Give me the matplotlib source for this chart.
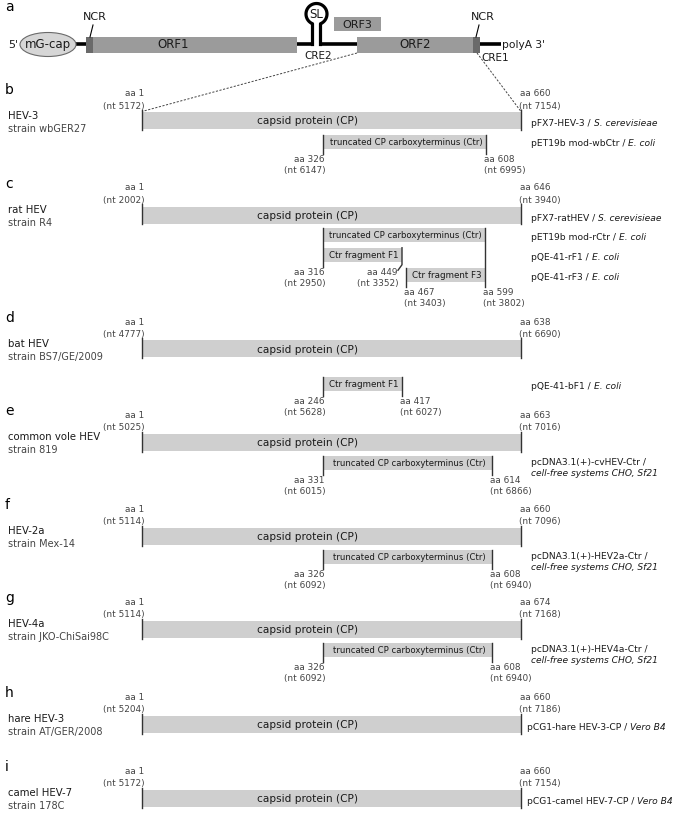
"""HEV capsid protein constructs: genome overview (a) and expression constructs (b-i)."""

import matplotlib

matplotlib.use("Agg")
import matplotlib.pyplot as plt
import numpy as np
from matplotlib.patches import Ellipse, Rectangle

# --- data -------------------------------------------------------------------
CTR = "truncated CP carboxyterminus (Ctr)"

panel_letters = ["b", "c", "d", "e", "f", "g", "h", "i"]
species = ["HEV-3", "rat HEV", "bat HEV", "common vole HEV", "HEV-2a", "HEV-4a",
           "hare HEV-3", "camel HEV-7"]
strains = ["strain wbGER27", "strain R4", "strain BS7/GE/2009", "strain 819",
           "strain Mex-14", "strain JKO-ChiSai98C", "strain AT/GER/2008", "strain 178C"]
cp_aa_end = [660, 646, 638, 663, 660, 674, 660, 660]
cp_nt_start = [5172, 2002, 4777, 5025, 5114, 5114, 5204, 5172]
cp_nt_end = [7154, 3940, 6690, 7016, 7096, 7168, 7186, 7154]
cp_plasmid = ["pFX7-HEV-3 /", "pFX7-ratHEV /", "", "", "", "",
              "pCG1-hare HEV-3-CP /", "pCG1-camel HEV-7-CP /"]
cp_host = ["S. cerevisieae", "S. cerevisieae", "", "", "", "", "Vero B4", "Vero B4"]

frag_panel = [0, 1, 1, 1, 2, 3, 4, 5]
frag_name = [CTR, CTR, "Ctr fragment F1", "Ctr fragment F3", "Ctr fragment F1", CTR, CTR, CTR]
frag_aa_start = [326, 316, 316, 467, 246, 331, 326, 326]
frag_nt_start = [6147, 2950, 2950, 3403, 5628, 6015, 6092, 6092]
frag_aa_end = [608, 599, 449, 599, 417, 614, 608, 608]
frag_nt_end = [6995, 3802, 3352, 3802, 6027, 6866, 6940, 6940]
frag_plasmid = ["pET19b mod-wbCtr /", "pET19b mod-rCtr /", "pQE-41-rF1 /", "pQE-41-rF3 /",
                "pQE-41-bF1 /", "pcDNA3.1(+)-cvHEV-Ctr /", "pcDNA3.1(+)-HEV2a-Ctr /",
                "pcDNA3.1(+)-HEV4a-Ctr /"]
frag_host = ["E. coli", "E. coli", "E. coli", "E. coli", "E. coli",
             "cell-free systems CHO, Sf21", "cell-free systems CHO, Sf21",
             "cell-free systems CHO, Sf21"]

# --- layout (schematic, pixel units) ----------------------------------------
W, H = 685, 813
panel_y = [121, 215, 349, 442, 536, 629, 724, 798]
CP_X0, CP_X1, CP_H = 142, 521, 17
CP_TEXT_X = 308
frag_x0 = [323, 323, 323, 406, 323, 323, 323, 323]
frag_x1 = [486, 485, 402, 485, 402, 492, 492, 492]
frag_dy = [21, 20, 40, 60, 35, 21, 21, 21]
frag_start_side = ["left", "left", "left", "right", "left", "left", "left", "left"]
frag_end_side = ["right", "right", "kink", "right", "right", "right", "right", "right"]
frag_two_lines = [False, False, False, False, False, True, True, True]
FRAG_H = 14.5
PLASMID_X = 531

BAR_GREY = "#cfcfcf"
ORF_GREY = "#9b9b9b"
NCR_GREY = "#6a6a6a"
TICK = "#333333"
LABEL = "#444444"
DARK = "#1a1a1a"
SMALL = 6.4

fig = plt.figure(figsize=(W / 100, H / 100), dpi=100)
ax = fig.add_axes([0, 0, 1, 1])
ax.set_xlim(0, W)
ax.set_ylim(H, 0)
ax.axis("off")
renderer = fig.canvas.get_renderer()
inv = ax.transData.inverted()


def plasmid_label(x, y, regular, italic, size=6.6):
    t = ax.text(x, y, regular, ha="left", va="center_baseline", fontsize=size, color=DARK)
    bb = t.get_window_extent(renderer)
    x_end = inv.transform((bb.x1, bb.y0))[0]
    ax.text(x_end + 3, y, italic, ha="left", va="center_baseline", fontsize=size,
            color=DARK, style="italic")


# --- panel a: genome ----------------------------------------------------------
gy = 44.5
ax.text(5, 7, "a", fontsize=10, ha="left", va="center", color="black")
ax.plot([76, 312.5], [gy, gy], color="black", lw=2.6, solid_capstyle="butt", zorder=1)
ax.plot([320.5, 501], [gy, gy], color="black", lw=2.6, solid_capstyle="butt", zorder=1)

# stem loop
cx, cy, r = 316.5, 14.0, 10.5
dx = 4.0
dy = np.sqrt(r ** 2 - dx ** 2)
theta = np.linspace(np.arctan2(dy, -dx), np.arctan2(dy, dx) + 2 * np.pi, 90)
loop_x = np.concatenate([[cx - dx, cx - dx], cx + r * np.cos(theta), [cx + dx, cx + dx]])
loop_y = np.concatenate([[gy, cy + dy], cy + r * np.sin(theta), [cy + dy, gy]])
ax.plot(loop_x, loop_y, color="black", lw=2.3, solid_joinstyle="round", zorder=1)
ax.text(cx, cy + 0.5, "SL", fontsize=8.5, ha="center", va="center", color=DARK)

ax.add_patch(Ellipse((48, gy), 56, 24, facecolor="#d6d6d6", edgecolor="#6a6a6a", lw=0.8, zorder=2))
ax.text(48, gy, "mG-cap", fontsize=8.5, ha="center", va="center", color=DARK, zorder=3)
ax.text(13, gy, "5'", fontsize=8, ha="center", va="center", color=DARK)

ax.add_patch(Rectangle((86, 37), 7, 16, facecolor=NCR_GREY, edgecolor="none", zorder=2))
ax.add_patch(Rectangle((93, 37), 204, 16, facecolor=ORF_GREY, edgecolor="none", zorder=2))
ax.add_patch(Rectangle((357, 37), 116, 16, facecolor=ORF_GREY, edgecolor="none", zorder=2))
ax.add_patch(Rectangle((473, 37), 7, 16, facecolor=NCR_GREY, edgecolor="none", zorder=2))
ax.add_patch(Rectangle((334, 17), 47, 14, facecolor=ORF_GREY, edgecolor="none", zorder=2))
ax.text(173, gy + 0.5, "ORF1", fontsize=8.5, ha="center", va="center", color=DARK, zorder=3)
ax.text(415, gy + 0.5, "ORF2", fontsize=8.5, ha="center", va="center", color=DARK, zorder=3)
ax.text(357.5, 24.5, "ORF3", fontsize=8, ha="center", va="center", color=DARK, zorder=3)

ax.text(95, 17, "NCR", fontsize=8, ha="center", va="center", color=DARK)
ax.plot([93, 90], [25, 37], color="black", lw=0.8)
ax.text(483, 17, "NCR", fontsize=8, ha="center", va="center", color=DARK)
ax.plot([479, 476], [25, 37], color="black", lw=0.8)
ax.text(318, 56, "CRE2", fontsize=7.5, ha="center", va="center", color=DARK)
ax.text(495, 58, "CRE1", fontsize=7.5, ha="center", va="center", color=DARK)
ax.text(502, gy, "polyA 3'", fontsize=7.7, ha="left", va="center", color=DARK)

# zoom lines from ORF2 to panel b
ax.plot([357, CP_X0], [53, panel_y[0] - CP_H / 2 - 1], color="#444444", lw=0.7,
        linestyle=(0, (2.2, 1.6)))
ax.plot([477, CP_X1], [53, panel_y[0] - CP_H / 2 - 1], color="#444444", lw=0.7,
        linestyle=(0, (2.2, 1.6)))

# --- panels b-i: capsid protein bars ------------------------------------------
for p, y in enumerate(panel_y):
    ax.text(5, y - 31, panel_letters[p], fontsize=10, ha="left", va="center", color="black")
    ax.text(8, y - 5, species[p], fontsize=7.3, ha="left", va="center", color=DARK)
    ax.text(8, y + 8, strains[p], fontsize=7.0, ha="left", va="center", color=LABEL)

    ax.barh(y, CP_X1 - CP_X0, left=CP_X0, height=CP_H, color=BAR_GREY, zorder=2)
    ax.text(CP_TEXT_X, y + 0.5, "capsid protein (CP)", fontsize=7.6, ha="center",
            va="center", color=DARK, zorder=3)
    for x in (CP_X0, CP_X1):
        ax.plot([x, x], [y - CP_H / 2 - 2, y + CP_H / 2 + 1], color=TICK, lw=1.0, zorder=3)

    ax.text(CP_X0 + 2, y - 27, "aa 1", fontsize=SMALL, ha="right", va="center", color=LABEL)
    ax.text(CP_X0 + 3, y - 15, f"(nt {cp_nt_start[p]})", fontsize=SMALL, ha="right",
            va="center", color=LABEL)
    ax.text(CP_X1 - 1, y - 27, f"aa {cp_aa_end[p]}", fontsize=SMALL, ha="left",
            va="center", color=LABEL)
    ax.text(CP_X1 - 2, y - 15, f"(nt {cp_nt_end[p]})", fontsize=SMALL, ha="left",
            va="center", color=LABEL)

    if cp_plasmid[p]:
        plasmid_label(PLASMID_X if p < 6 else 527, y + 2, cp_plasmid[p], cp_host[p])

# --- fragments -----------------------------------------------------------------
ticks = {}
for k, p in enumerate(frag_panel):
    fy = panel_y[p] + frag_dy[k]
    x0, x1 = frag_x0[k], frag_x1[k]
    ax.barh(fy, x1 - x0, left=x0, height=FRAG_H, color=BAR_GREY, zorder=2)
    size = 6.1 if frag_name[k] == CTR else 6.3
    ax.text((x0 + x1) / 2 + 1.5, fy + 0.5, frag_name[k], fontsize=size, ha="center",
            va="center", color=DARK, zorder=3)

    if frag_two_lines[k]:
        ax.text(PLASMID_X, fy - 2, frag_plasmid[k], fontsize=6.6, ha="left",
                va="center_baseline", color=DARK)
        ax.text(PLASMID_X, fy + 9, frag_host[k], fontsize=6.6, ha="left",
                va="center_baseline", color=DARK, style="italic")
    else:
        plasmid_label(PLASMID_X, fy + 1, frag_plasmid[k], frag_host[k])

    top, bottom = fy - FRAG_H / 2, fy + FRAG_H / 2
    ends = ((x0, frag_aa_start[k], frag_nt_start[k], frag_start_side[k]),
            (x1, frag_aa_end[k], frag_nt_end[k], frag_end_side[k]))
    for x, aa, nt, side in ends:
        key = (p, x)
        if key not in ticks:
            ticks[key] = dict(top=top, bottom=bottom, aa=aa, nt=nt, side=side)
        else:
            t = ticks[key]
            t["top"] = min(t["top"], top)
            if bottom > t["bottom"]:
                t.update(bottom=bottom, aa=aa, nt=nt, side=side)

for (p, x), t in ticks.items():
    b = t["bottom"]
    if t["side"] == "kink":
        ax.plot([x, x, x - 4], [t["top"], b + 2.5, b + 8], color=TICK, lw=1.0, zorder=3)
        lx, ha = x - 4, "right"
    else:
        ax.plot([x, x], [t["top"], b + 5], color=TICK, lw=1.0, zorder=3)
        lx, ha = (x + 2, "right") if t["side"] == "left" else (x - 2, "left")
    ax.text(lx, b + 10.5, f"aa {t['aa']}", fontsize=SMALL, ha=ha, va="center", color=LABEL)
    ax.text(lx + (1 if ha == "right" else 0), b + 21.5, f"(nt {t['nt']})", fontsize=SMALL,
            ha=ha, va="center", color=LABEL)

fig.savefig("out.png", dpi=100)
